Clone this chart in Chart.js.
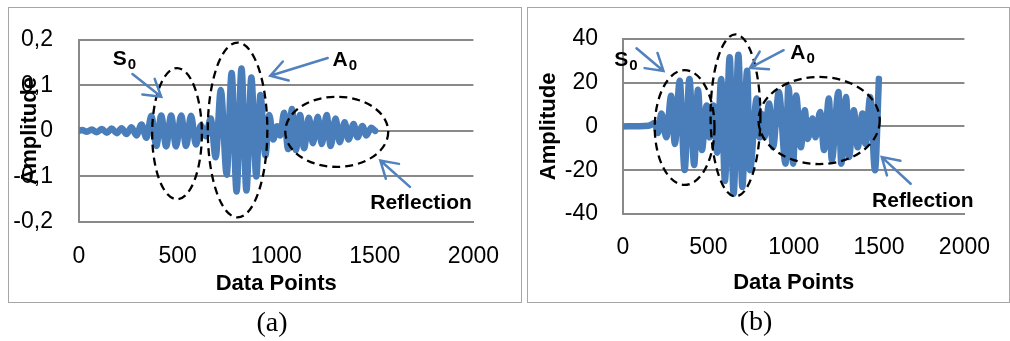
<!DOCTYPE html>
<html>
<head>
<meta charset="utf-8">
<script src="https://cdn.jsdelivr.net/npm/chart.js@4.4.1/dist/chart.umd.min.js"></script>
<style>
  body { margin: 0; width: 1010px; height: 341px; position: relative; background: #fff; overflow: hidden; }
  .box { position: absolute; top: 7px; height: 296px; border: 1px solid #a6a6a6; box-sizing: border-box; }
  .wrap { position: absolute; top: 0; height: 341px; }
  .cap { position: absolute; font: 28px "Liberation Serif", serif; transform: translate(-50%, -50%); }
</style>
</head>
<body>
<div class="box" style="left:8px;width:514px"></div>
<div class="box" style="left:527px;width:483px"></div>
<div class="wrap" style="left:0;width:520px"><canvas id="chartA" width="520" height="341"></canvas></div>
<div class="wrap" style="left:520px;width:490px"><canvas id="chartB" width="490" height="341"></canvas></div>
<div class="cap" style="left:272px;top:322px">(a)</div>
<div class="cap" style="left:756px;top:321px">(b)</div>
<script>
'use strict';
// wave extremes (a)
let xValuesA = [0, 15, 40, 65, 90, 116, 141, 166, 191, 216, 241, 266, 291, 317, 342, 367, 392, 417, 442, 467, 492, 518, 543, 568, 593, 618, 643, 668, 693, 719, 749, 774, 799, 824, 849, 874, 899, 920, 945, 965, 985, 1005, 1020, 1040, 1060, 1080, 1100, 1121, 1141, 1166, 1186, 1211, 1231, 1256, 1276, 1301, 1322, 1347, 1367, 1392, 1412, 1437, 1457, 1482, 1502];
let yValuesA = [0, 0.002, -0.002, 0.003, -0.003, 0.004, -0.004, 0.005, -0.005, 0.006, -0.007, 0.008, -0.010, 0.014, -0.015, 0.033, -0.033, 0.034, -0.034, 0.034, -0.034, 0.034, -0.033, 0.033, -0.030, 0.012, -0.012, 0.027, -0.058, 0.090, -0.096, 0.127, -0.133, 0.137, -0.131, 0.117, -0.100, 0.079, -0.054, 0.035, -0.019, 0.010, -0.010, 0.040, -0.040, 0.048, -0.042, 0.035, -0.038, 0.029, -0.027, 0.031, -0.029, 0.035, -0.033, 0.027, -0.025, 0.019, -0.019, 0.015, -0.014, 0.011, -0.010, 0.007, 0];
// wave extremes (b)
let xValuesB = [0, 150, 185, 205, 225, 254, 282, 304, 332, 361, 389, 417, 439, 462, 490, 507, 530, 552, 575, 597, 625, 648, 676, 699, 727, 744, 783, 800, 811, 828, 856, 879, 913, 952, 969, 997, 1014, 1042, 1065, 1082, 1110, 1127, 1155, 1178, 1206, 1223, 1262, 1279, 1307, 1324, 1352, 1375, 1403, 1420, 1448, 1476, 1499];
let yValuesB = [0, 0.3, 1.5, -3, 5.9, -5, 14, -8, 20.8, -19.9, 21.7, -17.6, 16.7, -10.8, 9.5, -5, 9.6, -12, 21.7, -24.9, 31.6, -30.7, 32.7, -27.6, 25.4, -20, 12.7, -5, 5.9, -5, 10.4, -9.5, 15.7, -17, 18, -17, 14.1, -9.5, 7.4, -5.7, 3.6, -5, 6.6, -10.8, 12.7, -15.4, 15.7, -17, 13.4, -14, 7.4, -9.5, 5.9, -8, 13.4, -20, 21.7];
let xTickLabels = ['0', '500', '1000', '1500', '2000'];
let yTickLabelsA = ['-0,2', '-0,1', '0', '0,1', '0,2'];
let yTickLabelsB = ['-40', '-20', '0', '20', '40'];

Chart.defaults.font.family = '"Liberation Sans", Arial, sans-serif';
Chart.defaults.color = '#000';

// dashed rings, arrows and the S0 / A0 / Reflection notes, placed in data units
let markPlugin = {
  id: 'marks',
  afterDatasetsDraw(chart, args, opts) {
    let ctx = chart.ctx;
    let x = chart.scales.x;
    let y = chart.scales.y;
    ctx.save();
    ctx.strokeStyle = '#000';
    ctx.lineWidth = 2.3;
    ctx.setLineDash([8, 5]);
    opts.rings.forEach(function (r) {
      let cx = x.getPixelForValue(r[0]);
      let cy = y.getPixelForValue(r[1]);
      let rx = x.getPixelForValue(r[0] + r[2]) - cx;
      let ry = cy - y.getPixelForValue(r[1] + r[3]);
      ctx.beginPath();
      ctx.ellipse(cx, cy, rx, ry, 0, 0, Math.PI * 2);
      ctx.stroke();
    });
    ctx.setLineDash([]);
    ctx.strokeStyle = '#5182be';
    ctx.lineWidth = 2.5;
    ctx.lineCap = 'round';
    opts.arrows.forEach(function (a) {
      let x1 = x.getPixelForValue(a[0]);
      let y1 = y.getPixelForValue(a[1]);
      let x2 = x.getPixelForValue(a[2]);
      let y2 = y.getPixelForValue(a[3]);
      let ang = Math.atan2(y1 - y2, x1 - x2);
      ctx.beginPath();
      ctx.moveTo(x1, y1);
      ctx.lineTo(x2, y2);
      ctx.moveTo(x2 + 19 * Math.cos(ang + 0.55), y2 + 19 * Math.sin(ang + 0.55));
      ctx.lineTo(x2, y2);
      ctx.lineTo(x2 + 19 * Math.cos(ang - 0.55), y2 + 19 * Math.sin(ang - 0.55));
      ctx.stroke();
    });
    ctx.fillStyle = '#000';
    ctx.textBaseline = 'alphabetic';
    ctx.textAlign = 'left';
    opts.notes.forEach(function (n) {
      let px = x.getPixelForValue(n[1]);
      let py = y.getPixelForValue(n[2]);
      ctx.font = 'bold 21px "Liberation Sans", Arial, sans-serif';
      ctx.fillText(n[0], px, py);
      if (n[3]) {
        let w = ctx.measureText(n[0]).width;
        ctx.font = 'bold 15px "Liberation Sans", Arial, sans-serif';
        ctx.fillText(n[3], px + w + 1, py + 4);
      }
    });
    ctx.restore();
  }
};

function makeChart(id, xs, ys, yLabels, yMin, yMax, step, fit, marks) {
  let points = [];
  for (let i = 0; i < xs.length; i++) {
    points.push({ x: xs[i], y: ys[i] });
  }
  return new Chart(document.getElementById(id), {
    type: 'line',
    data: {
      datasets: [{
        data: points,
        borderColor: '#4a7ebb',
        borderWidth: 6.5,
        pointRadius: 0,
        cubicInterpolationMode: 'monotone',
        borderJoinStyle: 'round',
        borderCapStyle: 'round'
      }]
    },
    options: {
      responsive: false,
      animation: false,
      layout: { padding: { left: 0, right: fit.right, top: fit.top, bottom: 0 } },
      plugins: { legend: { display: false }, tooltip: { enabled: false }, marks: marks },
      scales: {
        x: {
          type: 'linear',
          min: 0,
          max: 2000,
          grid: { display: false, drawTicks: false },
          border: { color: '#898989', width: 2 },
          ticks: {
            stepSize: 500,
            padding: fit.xTickPad,
            font: { size: 23 },
            maxRotation: 0,
            callback: function (v, i) { return xTickLabels[i]; }
          },
          title: { display: true, text: 'Data Points', font: { size: 22, weight: 'bold' }, padding: { top: 0, bottom: fit.xTitlePad } },
          afterFit: function (s) { s.height = fit.xHeight; }
        },
        y: {
          min: yMin,
          max: yMax,
          grid: { color: '#898989', lineWidth: 2, drawTicks: false },
          border: { color: '#898989', width: 2 },
          ticks: {
            stepSize: step,
            padding: fit.yTickPad,
            font: { size: 23 },
            callback: function (v, i) { return yLabels[i]; }
          },
          title: { display: true, text: 'Amplitude', font: { size: 22, weight: 'bold' }, padding: { top: fit.yTitlePad, bottom: 0 } },
          afterFit: function (s) { s.width = fit.yWidth; }
        }
      }
    },
    plugins: [markPlugin]
  });
}

makeChart('chartA', xValuesA, yValuesA, yTickLabelsA, -0.2, 0.2, 0.1,
  { right: 43, top: 30, yWidth: 79, xHeight: 119, yTickPad: 26, xTickPad: 21, yTitlePad: 17, xTitlePad: 44 },
  {
    rings: [[497, -0.006, 126, 0.144], [804, 0.002, 151, 0.192], [1307, -0.002, 261, 0.077]],
    arrows: [[271, 0.125, 417, 0.075], [1261, 0.160, 970, 0.121], [1678, -0.123, 1528, -0.065]],
    notes: [['S', 171, 0.144, '0'], ['A', 1286, 0.142, '0'], ['Reflection', 1477, -0.171]]
  });

makeChart('chartB', xValuesB, yValuesB, yTickLabelsB, -40, 40, 20,
  { right: 32, top: 37, yWidth: 103, xHeight: 127, yTickPad: 25, xTickPad: 20, yTitlePad: 16, xTitlePad: 45 },
  {
    rings: [[361, -0.5, 175, 26.2], [659, 5.0, 146, 37], [1149, 2.7, 355, 19.9]],
    arrows: [[79, 35.7, 237, 25.3], [941, 34.8, 744, 26.7], [1685, -26.2, 1516, -14]],
    notes: [['S', -51, 27.6, '0'], ['A', 980, 30.7, '0'], ['Reflection', 1459, -36.6]]
  });
</script>
</body>
</html>
